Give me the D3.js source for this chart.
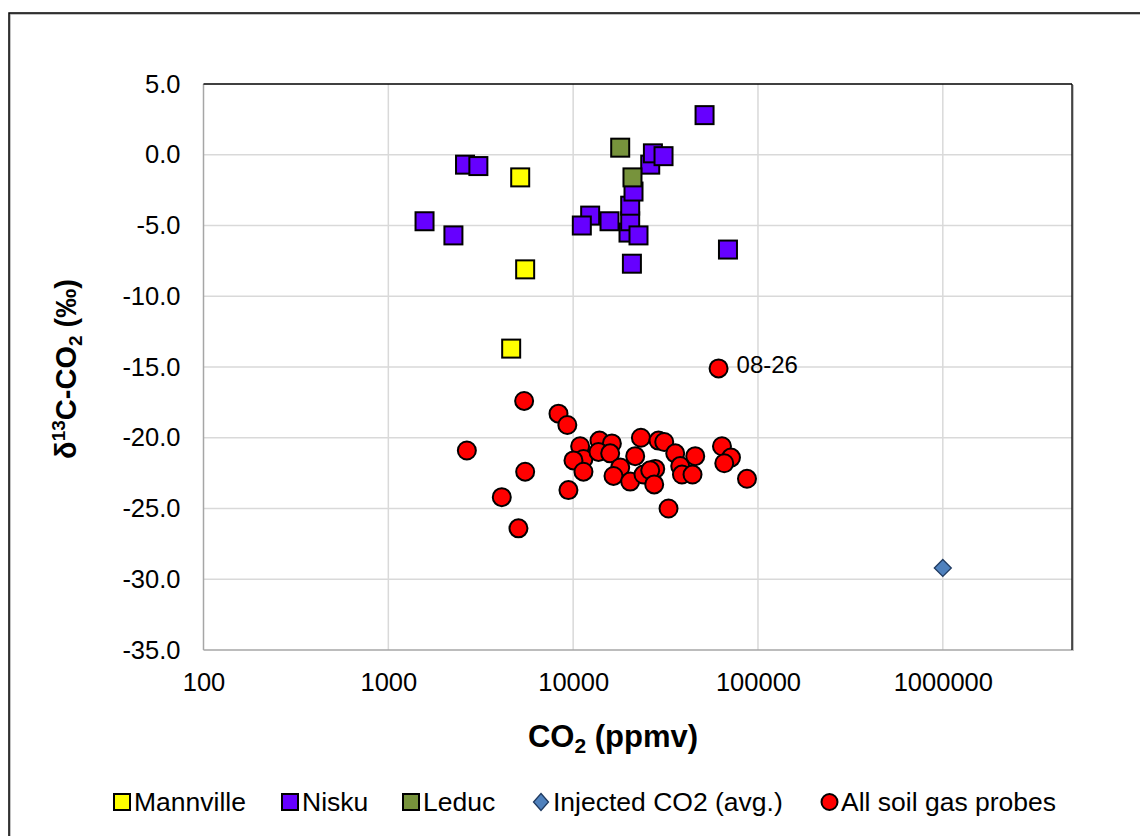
<!DOCTYPE html>
<html>
<head>
<meta charset="utf-8">
<script src="https://cdn.jsdelivr.net/npm/d3@7"></script>
<style>
  html, body { margin: 0; padding: 0; background: #fff; }
  svg { display: block; font-family: "Liberation Sans", Arial, sans-serif; }
</style>
</head>
<body>
<svg id="chart" width="1140" height="836"></svg>
<script>
// ---- data (CO2 ppmv, δ13C ‰) ----
const mannville = [[5170, -1.6], [5500, -8.1], [4620, -13.7]];
const nisku = [
  [51400, 2.8], [2600, -0.7], [3070, -0.8], [1570, -4.7], [2250, -5.7],
  [12360, -4.3], [11140, -5.0], [15730, -4.7], [19930, -5.5], [20350, -4.7],
  [20350, -3.6], [22570, -5.7], [21210, -2.6], [20790, -7.7],
  [26120, -0.7], [27010, 0.1], [30830, -0.1], [68800, -6.7]
];
const leduc = [[17970, 0.5], [20940, -1.6]];
const injected = [[1000000, -29.2]];
const soil = [
  [61200, -15.1], [5430, -17.4], [8330, -18.3], [9300, -19.1], [2660, -20.9],
  [5500, -22.4], [4110, -24.2], [5060, -26.4], [9430, -23.7], [10910, -20.6],
  [11370, -21.5], [10040, -21.6], [11370, -22.4], [13880, -20.2], [16200, -20.4],
  [13710, -21.0], [15860, -21.1], [17970, -22.1], [16530, -22.7], [20350, -23.1],
  [21660, -21.3], [23260, -20.0], [24020, -22.6], [27800, -22.2], [26120, -22.3],
  [27450, -23.3], [28960, -20.2], [31100, -20.3], [35660, -21.1], [37960, -22.0],
  [38780, -22.6], [45760, -21.3], [44240, -22.6], [32810, -25.0], [63850, -20.6],
  [71430, -21.4], [65700, -21.8], [87200, -22.9]
];
const pointLabels = [{ x: 61200, y: -15.1, text: "08-26" }];
const xTicks = [100, 1000, 10000, 100000, 1000000];
const yTicks = [5, 0, -5, -10, -15, -20, -25, -30, -35];
const legendItems = [
  { name: "Mannville", shape: "square", fill: "#ffff00" },
  { name: "Nisku", shape: "square", fill: "#6600ff" },
  { name: "Leduc", shape: "square", fill: "#77933c" },
  { name: "Injected CO2 (avg.)", shape: "diamond", fill: "#4f81bd" },
  { name: "All soil gas probes", shape: "circle", fill: "#ff0000" }
];

// ---- layout ----
const svg = d3.select("#chart");
const L = 203.5, R = 1072, T = 84, B = 650;
const x = d3.scaleLog().domain([100, 5000000]).range([L, R]);
const y = d3.scaleLinear().domain([-35, 5]).range([B, T]);

// outer chart border (clipped by window on right/bottom)
svg.append("rect").attr("x", 10).attr("y", 14).attr("width", 1200).attr("height", 900)
  .attr("fill", "none").attr("stroke", "#9a9a9a").attr("stroke-width", 1.2);
svg.append("rect").attr("x", 9).attr("y", 13).attr("width", 1200).attr("height", 900)
  .attr("fill", "none").attr("stroke", "#000").attr("stroke-width", 1.5);

// gridlines
const g = svg.append("g");
g.selectAll(".vg").data(xTicks.slice(1)).join("line")
  .attr("x1", d => x(d)).attr("x2", d => x(d)).attr("y1", T).attr("y2", B)
  .attr("stroke", "#d9d9d9").attr("stroke-width", 1.5);
g.selectAll(".hg").data(yTicks.slice(1, -1)).join("line")
  .attr("x1", L).attr("x2", R).attr("y1", d => y(d)).attr("y2", d => y(d))
  .attr("stroke", "#d9d9d9").attr("stroke-width", 1.5);

// plot border
svg.append("line").attr("x1", L).attr("x2", R).attr("y1", B).attr("y2", B).attr("stroke", "#a6a6a6").attr("stroke-width", 1.5);
svg.append("line").attr("x1", L).attr("x2", L).attr("y1", T).attr("y2", B).attr("stroke", "#a6a6a6").attr("stroke-width", 1.5);
svg.append("line").attr("x1", R + 1).attr("x2", R + 1).attr("y1", T + 1).attr("y2", B + 1).attr("stroke", "#999").attr("stroke-width", 1.2);
svg.append("line").attr("x1", L).attr("x2", R).attr("y1", T).attr("y2", T).attr("stroke", "#000").attr("stroke-width", 1.3);
svg.append("line").attr("x1", R).attr("x2", R).attr("y1", T).attr("y2", B).attr("stroke", "#000").attr("stroke-width", 1.3);

// axes
const xAxis = svg.append("g").attr("transform", `translate(0,${B})`)
  .call(d3.axisBottom(x).tickValues(xTicks).tickFormat(d => String(d)).tickSize(0).tickPadding(23));
const yAxis = svg.append("g").attr("transform", `translate(${L},0)`)
  .call(d3.axisLeft(y).tickValues(yTicks).tickFormat(d => d.toFixed(1)).tickSize(0).tickPadding(23));
[xAxis, yAxis].forEach(a => {
  a.select(".domain").remove();
  a.selectAll("text").attr("font-size", 25.5).attr("fill", "#000")
    .attr("font-family", "'Liberation Sans', Arial, sans-serif");
});

// axis titles
const xt = svg.append("text").attr("x", 613).attr("y", 747).attr("text-anchor", "middle")
  .attr("font-weight", "bold").attr("font-size", 31);
xt.append("tspan").text("CO");
xt.append("tspan").attr("font-size", 21).attr("dy", 6).text("2");
xt.append("tspan").attr("dy", -6).text(" (ppmv)");

const yt = svg.append("text").attr("transform", "translate(76,369) rotate(-90)")
  .attr("text-anchor", "middle").attr("font-weight", "bold").attr("font-size", 29);
yt.append("tspan").text("δ");
yt.append("tspan").attr("font-size", 19).attr("dy", -11).text("13");
yt.append("tspan").attr("dy", 11).text("C-CO");
yt.append("tspan").attr("font-size", 19).attr("dy", 6).text("2");
yt.append("tspan").attr("dy", -6).text(" (‰)");

// markers
const SQ = 18;
function squares(data, fill) {
  svg.append("g").selectAll("rect").data(data).join("rect")
    .attr("x", d => x(d[0]) - SQ / 2).attr("y", d => y(d[1]) - SQ / 2)
    .attr("width", SQ).attr("height", SQ)
    .attr("fill", fill).attr("stroke", "#000").attr("stroke-width", 2);
}
squares(mannville, "#ffff00");
squares(nisku, "#6600ff");
squares(leduc, "#77933c");

const dia = 8.5;
svg.append("g").selectAll("path").data(injected).join("path")
  .attr("d", d => { const cx = x(d[0]), cy = y(d[1]);
    return `M${cx},${cy - dia}L${cx + dia},${cy}L${cx},${cy + dia}L${cx - dia},${cy}Z`; })
  .attr("fill", "#4f81bd").attr("stroke", "#1f3a60").attr("stroke-width", 1.3);

svg.append("g").selectAll("circle").data(soil).join("circle")
  .attr("cx", d => x(d[0])).attr("cy", d => y(d[1])).attr("r", 9)
  .attr("fill", "#ff0000").attr("stroke", "#000").attr("stroke-width", 2);

// point labels
svg.append("g").selectAll("text").data(pointLabels).join("text")
  .attr("x", d => x(d.x) + 18).attr("y", d => y(d.y) + 5)
  .attr("font-size", 24).attr("fill", "#000").text(d => d.text);

// legend
const legendX = [114, 282, 403, 533, 821];
const ly = 802;
const lg = svg.append("g");
legendItems.forEach((it, i) => {
  const lx = legendX[i];
  if (it.shape === "square") {
    lg.append("rect").attr("x", lx).attr("y", ly - 8).attr("width", 16).attr("height", 16)
      .attr("fill", it.fill).attr("stroke", "#000").attr("stroke-width", 2);
  } else if (it.shape === "diamond") {
    const cx = lx + 8;
    lg.append("path").attr("d", `M${cx},${ly - 8.5}L${cx + 7.5},${ly}L${cx},${ly + 8.5}L${cx - 7.5},${ly}Z`)
      .attr("fill", it.fill).attr("stroke", "#1f3a60").attr("stroke-width", 1.3);
  } else {
    lg.append("circle").attr("cx", lx + 8.5).attr("cy", ly).attr("r", 8)
      .attr("fill", it.fill).attr("stroke", "#000").attr("stroke-width", 2);
  }
  lg.append("text").attr("x", lx + 20).attr("y", ly + 9).attr("font-size", 26.5)
    .attr("fill", "#000").text(it.name);
});
</script>
</body>
</html>
